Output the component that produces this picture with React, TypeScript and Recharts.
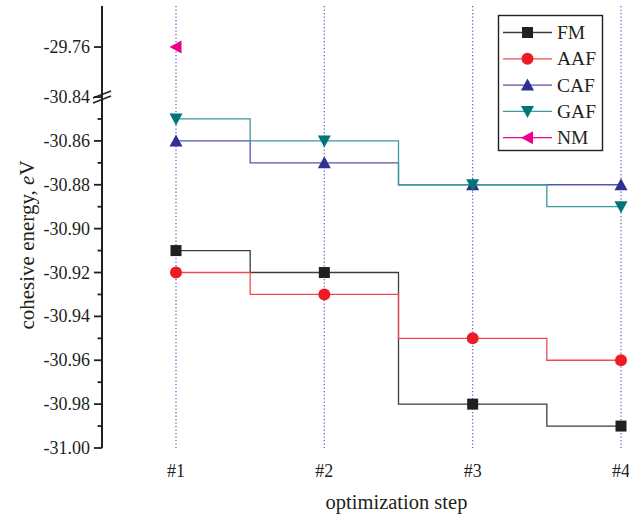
import React from 'react';
import { LineChart, Line, XAxis, YAxis, CartesianGrid, Legend, ReferenceLine } from 'recharts';

const steps = ['#1', '#2', '#3', '#4'];
const fmValues = [-30.91, -30.92, -30.98, -30.99];
const aafValues = [-30.92, -30.93, -30.95, -30.96];
const cafValues = [-30.86, -30.87, -30.88, -30.88];
const gafValues = [-30.85, -30.86, -30.88, -30.89];
const nmValues: (number | null)[] = [-29.76, null, null, null];
const yTickValues = [
  -31.0, -30.99, -30.98, -30.97, -30.96, -30.95, -30.94, -30.93, -30.92,
  -30.91, -30.9, -30.89, -30.88, -30.87, -30.86, -30.85, -30.84, -29.76,
];

const BREAK_AT = -30.84;
const UPPER_COMPRESSION = 0.0211;
const toAxis = (v: number | null) =>
  v == null ? null : v > BREAK_AT ? BREAK_AT + (v - BREAK_AT) * UPPER_COMPRESSION : v;
const fromAxis = (t: number) =>
  t > BREAK_AT + 1e-9 ? BREAK_AT + (t - BREAK_AT) / UPPER_COMPRESSION : t;

const FONT = '"Liberation Serif", "Times New Roman", serif';
const INK = '#231f20';

type Shape = 'square' | 'circle' | 'up' | 'down' | 'left';
const series: { key: string; values: (number | null)[]; fill: string; line: string; shape: Shape }[] = [
  { key: 'FM', values: fmValues, fill: '#231f20', line: '#3d3d3d', shape: 'square' },
  { key: 'AAF', values: aafValues, fill: '#ed1c24', line: '#f04a50', shape: 'circle' },
  { key: 'CAF', values: cafValues, fill: '#2e3192', line: '#5457a8', shape: 'up' },
  { key: 'GAF', values: gafValues, fill: '#00767b', line: '#3a9a9c', shape: 'down' },
  { key: 'NM', values: nmValues, fill: '#ec008c', line: '#ec008c', shape: 'left' },
];

const data = steps.map((s, i) => {
  const row: Record<string, any> = { step: s };
  series.forEach((sr) => {
    row[sr.key] = toAxis(sr.values[i]);
  });
  return row;
});

const Marker = ({ shape, cx, cy, fill }: { shape: Shape; cx: number; cy: number; fill: string }) => {
  switch (shape) {
    case 'square':
      return <rect x={cx - 5.5} y={cy - 5.5} width={11} height={11} fill={fill} />;
    case 'circle':
      return <circle cx={cx} cy={cy} r={6} fill={fill} />;
    case 'up':
      return <polygon points={`${cx},${cy - 6.5} ${cx - 6.5},${cy + 5.5} ${cx + 6.5},${cy + 5.5}`} fill={fill} />;
    case 'down':
      return <polygon points={`${cx - 6.5},${cy - 5.5} ${cx + 6.5},${cy - 5.5} ${cx},${cy + 6.5}`} fill={fill} />;
    case 'left':
    default:
      return <polygon points={`${cx - 6.5},${cy} ${cx + 5.5},${cy - 6.5} ${cx + 5.5},${cy + 6.5}`} fill={fill} />;
  }
};

const makeDot = (shape: Shape, fill: string) => (props: any) => {
  const { cx, cy, index } = props;
  if (cx == null || cy == null || props.value == null || Number.isNaN(cy)) return <g key={`d-${index}`} />;
  return (
    <g key={`d-${index}`}>
      <Marker shape={shape} cx={cx} cy={cy} fill={fill} />
    </g>
  );
};

const YTick = (props: any) => {
  const { x, y, payload } = props;
  const v = fromAxis(payload.value);
  const major = v > BREAK_AT + 1e-6 || Math.round(v * 100) % 2 === 0;
  return (
    <g>
      <line x1={x - (major ? 8 : 4.5)} x2={x} y1={y} y2={y} stroke={INK} strokeWidth={1.8} />
      {major && (
        <text x={x - 12} y={y} textAnchor="end" dominantBaseline="central" fontSize={18} fontFamily={FONT} fill={INK}>
          {v.toFixed(2)}
        </text>
      )}
    </g>
  );
};

const BreakMark = (props: any) => {
  const x = props.x1 ?? 102;
  const y = props.y1 ?? 97;
  return (
    <g>
      <polygon points={`${x - 4},${y + 3} ${x + 4},${y - 0.5} ${x + 4},${y - 4} ${x - 4},${y - 0.5}`} fill="#fff" />
      <line x1={x - 9} y1={y + 1} x2={x + 9} y2={y - 6} stroke={INK} strokeWidth={1.6} />
      <line x1={x - 9} y1={y + 6} x2={x + 9} y2={y - 1} stroke={INK} strokeWidth={1.6} />
    </g>
  );
};

const LegendBox = () => (
  <svg width={107} height={138} style={{ display: 'block' }}>
    <rect x={1.5} y={1.5} width={104} height={135} fill="#fff" stroke={INK} strokeWidth={1.4} />
    {series.map((s, i) => {
      const y = 18.5 + i * 26.3;
      return (
        <g key={s.key}>
          <line x1={6} x2={55} y1={y} y2={y} stroke={s.line} strokeWidth={1.3} />
          <Marker shape={s.shape} cx={30.5} cy={y} fill={s.fill} />
          <text x={60} y={y} dominantBaseline="central" fontSize={19.5} fontFamily={FONT} fill={INK}>
            {s.key}
          </text>
        </g>
      );
    })}
  </svg>
);

const YLabel = () => (
  <text
    x={27}
    y={245}
    transform="rotate(-90, 27, 245)"
    textAnchor="middle"
    dominantBaseline="central"
    fontSize={21}
    fontFamily={FONT}
    fill={INK}
  >
    cohesive energy, <tspan fontStyle="italic">e</tspan>V
  </text>
);

const XLabel = (props: any) => {
  const vb = props.viewBox || { x: 102, y: 448, width: 593, height: 69 };
  return (
    <text
      x={vb.x + vb.width / 2 - 2}
      y={502}
      textAnchor="middle"
      dominantBaseline="central"
      fontSize={20.5}
      fontFamily={FONT}
      fill={INK}
    >
      optimization step
    </text>
  );
};

export default function App() {
  return (
    <div style={{ position: 'absolute', left: 0, top: 0, width: 629, height: 517, overflow: 'hidden', background: '#fff' }}>
      <LineChart width={695} height={517} data={data} margin={{ top: 6, right: 0, bottom: 0, left: 0 }}>
        <CartesianGrid horizontal={false} vertical stroke="#6666cc" strokeDasharray="1.3 2.2" strokeWidth={1.3} />
        <XAxis
          dataKey="step"
          type="category"
          height={69}
          padding={{ left: 74, right: 74 }}
          axisLine={false}
          tickLine={false}
          tickSize={0}
          tickMargin={16}
          tick={{ fill: INK, fontSize: 18, fontFamily: FONT }}
          interval={0}
          label={<XLabel />}
        />
        <YAxis
          type="number"
          width={102}
          domain={[-31.0, -30.7985]}
          allowDataOverflow
          ticks={yTickValues.map((v) => toAxis(v) as number)}
          interval={0}
          tickSize={0}
          tickMargin={0}
          tickLine={false}
          axisLine={{ stroke: INK, strokeWidth: 2 }}
          tick={<YTick />}
          label={<YLabel />}
        />
        <ReferenceLine y={BREAK_AT} stroke="none" shape={<BreakMark />} ifOverflow="visible" />
        {series.map((s) => (
          <Line
            key={s.key}
            dataKey={s.key}
            type="step"
            stroke={s.line}
            strokeWidth={1.3}
            dot={makeDot(s.shape, s.fill)}
            activeDot={false}
            isAnimationActive={false}
            connectNulls={false}
          />
        ))}
        <Legend
          layout="vertical"
          align="center"
          verticalAlign="middle"
          content={<LegendBox />}
          wrapperStyle={{ left: 497, top: 14, width: 107, height: 138 }}
        />
      </LineChart>
    </div>
  );
}
